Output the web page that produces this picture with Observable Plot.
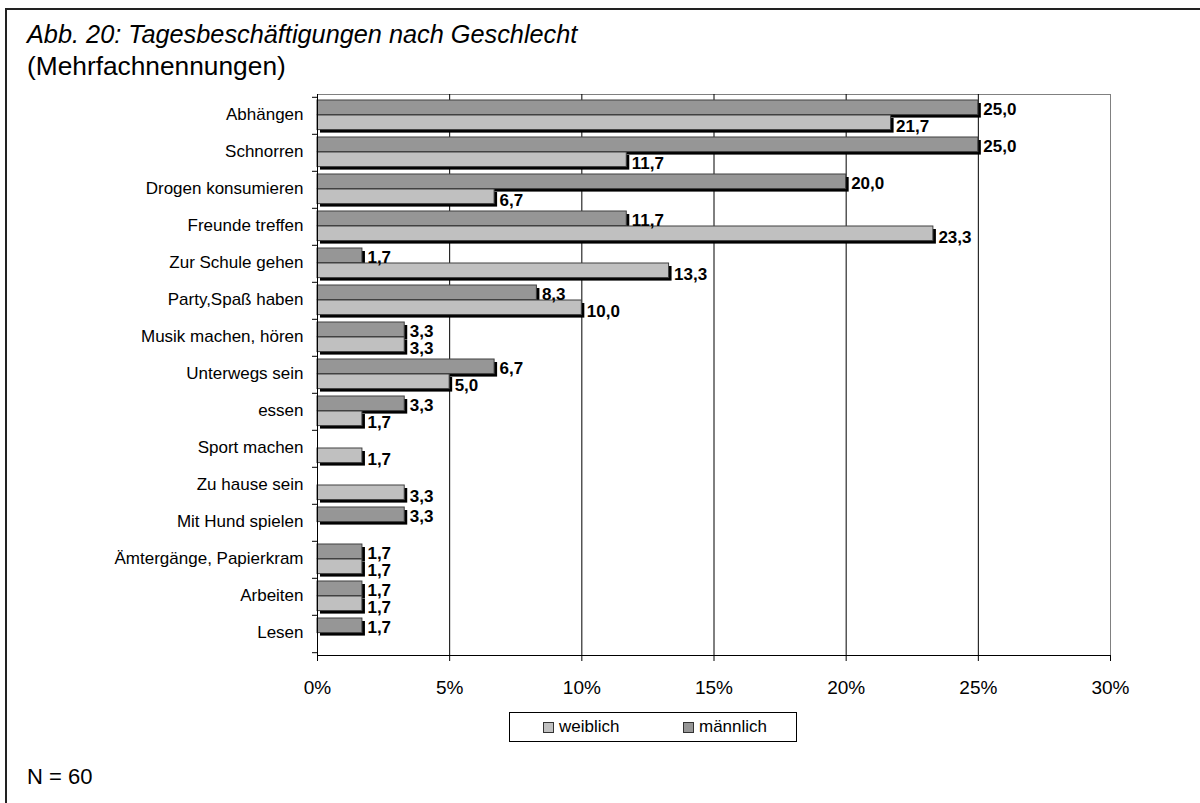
<!DOCTYPE html>
<html>
<head>
<meta charset="utf-8">
<script src="https://cdn.jsdelivr.net/npm/d3@7"></script>
<script src="https://cdn.jsdelivr.net/npm/@observablehq/plot@0.6"></script>
<style>
  html, body { margin: 0; padding: 0; background: #fff; }
  #wrap { position: relative; width: 1200px; height: 803px; overflow: hidden; font-family: "Liberation Sans", Arial, sans-serif; color: #000; }
  #border { position: absolute; left: 5px; top: 8px; width: 1300px; height: 900px; border-top: 2px solid #222; border-left: 2px solid #222; }
  #title { position: absolute; left: 27px; top: 20px; font-size: 25.3px; font-style: italic; white-space: nowrap; }
  #subtitle { position: absolute; left: 27px; top: 51px; font-size: 26.3px; white-space: nowrap; }
  #chart { position: absolute; left: 0; top: 80px; }
  #legend { position: absolute; left: 509px; top: 712px; width: 286px; height: 28px; border: 1px solid #000; font-size: 17px; }
  .item { position: absolute; top: 4px; display: flex; align-items: center; }
  .sw { width: 9px; height: 9px; border: 1px solid #333; margin-right: 5px; }
  #note { position: absolute; left: 27px; top: 764px; font-size: 22px; white-space: nowrap; }
</style>
</head>
<body>
<div id="wrap">
  <div id="border"></div>
  <div id="title"></div>
  <div id="subtitle"></div>
  <div id="chart"></div>
  <div id="legend"></div>
  <div id="note"></div>
</div>
<script>
const titleText = "Abb. 20: Tagesbeschäftigungen nach Geschlecht";
const subtitleText = "(Mehrfachnennungen)";
const noteText = "N = 60";

const categories = [
  "Abhängen", "Schnorren", "Drogen konsumieren", "Freunde treffen", "Zur Schule gehen",
  "Party,Spaß haben", "Musik machen, hören", "Unterwegs sein", "essen", "Sport machen",
  "Zu hause sein", "Mit Hund spielen", "Ämtergänge, Papierkram", "Arbeiten", "Lesen"
];
const maennlich = [25.0, 25.0, 20.0, 11.7, 1.7, 8.3, 3.3, 6.7, 3.3, null, null, 3.3, 1.7, 1.7, 1.7];
const weiblich  = [21.7, 11.7, 6.7, 23.3, 13.3, 10.0, 3.3, 5.0, 1.7, 1.7, 3.3, null, 1.7, 1.7, null];
const seriesNames = ["weiblich", "männlich"];
const seriesColors = ["#c0c0c0", "#969696"];
const xTicks = [0, 5, 10, 15, 20, 25, 30];
const gridTicks = [5, 10, 15, 20, 25];

document.getElementById("title").textContent = titleText;
document.getElementById("subtitle").textContent = subtitleText;
document.getElementById("note").textContent = noteText;

const mData = categories.map((c, i) => ({cat: c, value: maennlich[i]})).filter(d => d.value != null);
const wData = categories.map((c, i) => ({cat: c, value: weiblich[i]})).filter(d => d.value != null);
const fmt = v => v.toFixed(1).replace(".", ",");

const H = 630, mTop = 14, mBottom = 55;
const band = (H - mTop - mBottom) / categories.length;
const barH = 15;
const mInset = {insetTop: 3, insetBottom: band - 3 - barH};
const wInset = {insetTop: 3 + barH, insetBottom: band - 3 - 2 * barH};

const chart = Plot.plot({
  width: 1200,
  height: H,
  marginLeft: 317,
  marginRight: 90,
  marginTop: mTop,
  marginBottom: mBottom,
  style: {fontFamily: '"Liberation Sans", Arial, sans-serif', color: "#000", background: "transparent", overflow: "visible"},
  x: {domain: [0, 30]},
  y: {domain: categories, padding: 0},
  marks: [
    Plot.frame({stroke: "#808080"}),
    Plot.ruleX(gridTicks, {stroke: "#000", strokeWidth: 1}),
    Plot.barX(mData, {x: "value", y: "cat", ...mInset, fill: "#000", dx: 3, dy: 3}),
    Plot.barX(wData, {x: "value", y: "cat", ...wInset, fill: "#000", dx: 3, dy: 3}),
    Plot.barX(mData, {x: "value", y: "cat", ...mInset, fill: seriesColors[1], stroke: "#404040", strokeWidth: 1}),
    Plot.barX(wData, {x: "value", y: "cat", ...wInset, fill: seriesColors[0], stroke: "#404040", strokeWidth: 1}),
    Plot.ruleX([0], {stroke: "#000", strokeWidth: 1}),
    Plot.frame({anchor: "bottom", stroke: "#000"}),
    Plot.axisX({ticks: xTicks, tickFormat: d => d + "%", tickSize: 6, tickPadding: 19, fontSize: 19, label: null}),
    Plot.axisY({tickSize: 0, tickPadding: 14, fontSize: 17, label: null, dy: -1}),
    Plot.axisY({tickSize: 5, text: null, dy: -band / 2, label: null}),
    Plot.axisY({ticks: [categories[categories.length - 1]], tickSize: 5, text: null, dy: band / 2, label: null}),
    Plot.text(mData, {x: "value", y: "cat", text: d => fmt(d.value), dx: 5, dy: -6, textAnchor: "start", fontWeight: "bold", fontSize: 17, fill: "#000"}),
    Plot.text(wData, {x: "value", y: "cat", text: d => fmt(d.value), dx: 5, dy: 11, textAnchor: "start", fontWeight: "bold", fontSize: 17, fill: "#000"})
  ]
});
document.getElementById("chart").appendChild(chart);

const legend = document.getElementById("legend");
const lefts = [33, 173];
seriesNames.forEach((name, i) => {
  const it = document.createElement("div");
  it.className = "item";
  it.style.left = lefts[i] + "px";
  const sw = document.createElement("div");
  sw.className = "sw";
  sw.style.background = seriesColors[i];
  const t = document.createElement("span");
  t.textContent = name;
  it.appendChild(sw); it.appendChild(t);
  legend.appendChild(it);
});
</script>
</body>
</html>
